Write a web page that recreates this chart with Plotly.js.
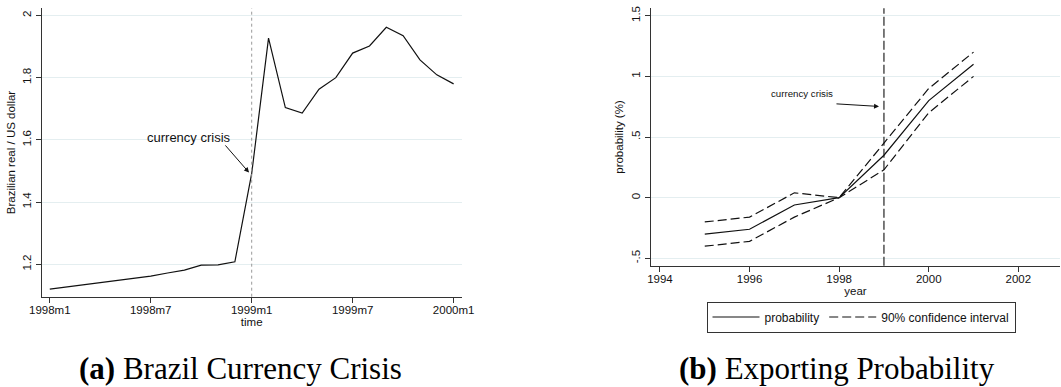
<!DOCTYPE html>
<html><head><meta charset="utf-8">
<script src="https://cdn.plot.ly/plotly-3.0.1.min.js"></script>
<style>html,body{margin:0;padding:0;background:#fff}#chart{width:1061px;height:387px}</style>
</head><body><div id="chart"></div>
<script>
// ---- Panel (a): Brazil Currency Crisis ----
const months = ['1998m1','1998m2','1998m3','1998m4','1998m5','1998m6','1998m7','1998m8','1998m9','1998m10','1998m11','1998m12',
                '1999m1','1999m2','1999m3','1999m4','1999m5','1999m6','1999m7','1999m8','1999m9','1999m10','1999m11','1999m12','2000m1'];
const exchangeRate = [1.120,1.127,1.134,1.141,1.148,1.155,1.162,1.172,1.181,1.197,1.198,1.208,
                      1.492,1.927,1.704,1.686,1.763,1.800,1.879,1.902,1.962,1.935,1.857,1.809,1.780];
const monthTickLabels = ['1998m1','1998m7','1999m1','1999m7','2000m1'];
const crisisMonth = '1999m1';

// ---- Panel (b): Exporting Probability ----
const years = [1995,1996,1997,1998,1999,2000,2001];
const probability = [-0.30,-0.26,-0.06,0.00,0.35,0.80,1.10];
const ciUpper = [-0.20,-0.16,0.04,0.00,0.45,0.90,1.20];
const ciLower = [-0.40,-0.36,-0.16,0.00,0.23,0.70,1.00];
const yearTicks = [1994,1996,1998,2000,2002];
const probTicks = [-0.5,0,0.5,1,1.5];
const probTickText = ['-.5','0','.5','1','1.5'];
const crisisYear = 1999;

const W = 1061, H = 387;
const px = v => v / W, py = v => 1 - v / H;
const SANS = 'Liberation Sans, Arial, sans-serif';
const SERIF = 'Liberation Serif, Times New Roman, serif';
const monthIdx = months.map((m, i) => i);
const mi = m => months.indexOf(m);

const traces = [
  {x: monthIdx, y: exchangeRate, xaxis: 'x', yaxis: 'y', mode: 'lines', showlegend: false,
   line: {color: '#111', width: 1.2}},
  {x: years, y: probability, xaxis: 'x2', yaxis: 'y2', mode: 'lines', name: 'probability',
   line: {color: '#111', width: 1.2}},
  {x: years, y: ciUpper, xaxis: 'x2', yaxis: 'y2', mode: 'lines', name: '90% confidence interval',
   line: {color: '#111', width: 1.2, dash: '9px,4px'}},
  {x: years, y: ciLower, xaxis: 'x2', yaxis: 'y2', mode: 'lines', showlegend: false,
   line: {color: '#111', width: 1.2, dash: '9px,4px'}}
];

const axisCommon = {
  showline: true, linecolor: '#333', linewidth: 1.2, ticks: 'outside', ticklen: 5, tickcolor: '#333',
  tickfont: {family: SANS, size: 11.5, color: '#111'}, zeroline: false, fixedrange: true
};

const layout = {
  width: W, height: H, margin: {l: 0, r: 0, t: 0, b: 0},
  paper_bgcolor: '#fff', plot_bgcolor: '#fff',
  font: {family: SANS, color: '#111'},
  xaxis: Object.assign({}, axisCommon, {
    domain: [px(41.7), px(461.7)], range: [-0.48, 24.48], anchor: 'y',
    tickvals: monthTickLabels.map(mi), ticktext: monthTickLabels, showgrid: false, ticklabelstandoff: -3,
    title: {text: 'time', font: {family: SANS, size: 11.5, color: '#111'}, standoff: 0}
  }),
  yaxis: Object.assign({}, axisCommon, {
    domain: [py(296.7), py(8.3)], range: [1.0958, 2.023], anchor: 'x',
    tickvals: [1.2, 1.4, 1.6, 1.8, 2], ticktext: ['1.2','1.4','1.6','1.8','2'], tickangle: -90,
    showgrid: true, gridcolor: '#e4eef0', gridwidth: 1,
    title: {text: 'Brazilian real / US dollar', font: {family: SANS, size: 11.5, color: '#111'}, standoff: 2}
  }),
  xaxis2: Object.assign({}, axisCommon, {
    domain: [px(651), px(1060)], range: [1993.8, 2002.93], anchor: 'y2',
    tickvals: yearTicks, ticktext: yearTicks.map(String), showgrid: false, ticklabelstandoff: -3,
    title: {text: 'year', font: {family: SANS, size: 11.5, color: '#111'}, standoff: 0}
  }),
  yaxis2: Object.assign({}, axisCommon, {
    domain: [py(265.7), py(8.3)], range: [-0.5606, 1.561], anchor: 'x2',
    tickvals: probTicks, ticktext: probTickText, tickangle: -90,
    showgrid: true, gridcolor: '#e4eef0', gridwidth: 1,
    title: {text: 'probability (%)', font: {family: SANS, size: 11.5, color: '#111'}, standoff: 4}
  }),
  showlegend: true,
  legend: {orientation: 'h', x: px(861), y: py(317), xanchor: 'center', yanchor: 'middle',
    bordercolor: '#333', borderwidth: 1, bgcolor: '#fff', itemwidth: 47,
    font: {family: SANS, size: 12, color: '#111'}},
  shapes: [
    {type: 'line', xref: 'x', yref: 'y domain', x0: mi(crisisMonth), x1: mi(crisisMonth), y0: 0, y1: 1,
     line: {color: '#999', width: 1, dash: 'dot'}},
    {type: 'line', xref: 'x2', yref: 'y2 domain', x0: crisisYear, x1: crisisYear, y0: 0, y1: 1,
     line: {color: '#111', width: 1.1, dash: '9px,3px'}}
  ],
  annotations: [
    {xref: 'x', yref: 'y', x: 8.27, y: 1.608, text: 'currency crisis', showarrow: false,
     font: {family: SANS, size: 13, color: '#111'}},
    {xref: 'x', yref: 'y', axref: 'x', ayref: 'y', x: 11.84, y: 1.495, ax: 10.36, ay: 1.587,
     text: '', showarrow: true, arrowhead: 2, arrowsize: 1, arrowwidth: 1, arrowcolor: '#111'},
    {xref: 'x2', yref: 'y2', x: 1997.17, y: 0.859, text: 'currency crisis', showarrow: false,
     font: {family: SANS, size: 9.7, color: '#111'}},
    {xref: 'x2', yref: 'y2', axref: 'x2', ayref: 'y2', x: 1998.89, y: 0.752, ax: 1997.907, ay: 0.774,
     text: '', showarrow: true, arrowhead: 2, arrowsize: 1, arrowwidth: 1, arrowcolor: '#111'},
    {xref: 'paper', yref: 'paper', x: px(240.5), y: py(368.5), xanchor: 'center', yanchor: 'middle',
     text: '<b>(a)</b> Brazil Currency Crisis', showarrow: false,
     font: {family: SERIF, size: 31, color: '#000'}},
    {xref: 'paper', yref: 'paper', x: px(837), y: py(368.5), xanchor: 'center', yanchor: 'middle',
     text: '<b>(b)</b> Exporting Probability', showarrow: false,
     font: {family: SERIF, size: 31, color: '#000'}}
  ]
};

Plotly.newPlot('chart', traces, layout, {staticPlot: true, displayModeBar: false});
</script>
</body></html>
